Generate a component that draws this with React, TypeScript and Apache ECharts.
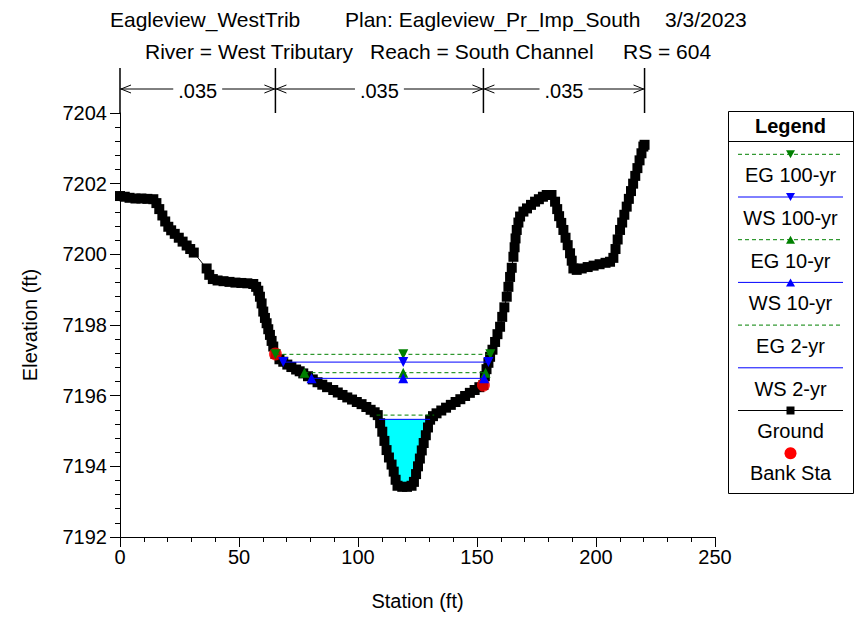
import React, { useEffect, useRef } from "react";
import * as echarts from "echarts";

// ---------------- data ----------------
// Ground survey points [station (ft), elevation (ft)]
const groundPoints: [number, number][] = [
  [0, 7201.65], [2, 7201.63], [4, 7201.6], [6.5, 7201.58], [9, 7201.58], [11.5, 7201.57],
  [14, 7201.56], [15.3, 7201.45], [16.5, 7201.28], [17.8, 7201.1], [19, 7200.93], [20.3, 7200.78],
  [21.5, 7200.68], [23, 7200.58], [24.7, 7200.47], [26.3, 7200.36], [28, 7200.25], [29.5, 7200.15],
  [31, 7200.05],
  [36.4, 7199.6], [37.5, 7199.42], [39, 7199.3], [41, 7199.26], [43.5, 7199.24], [46, 7199.22],
  [48.5, 7199.2], [51, 7199.19], [53.5, 7199.18], [56, 7199.16], [57.2, 7199.08], [58.1, 7198.97],
  [58.8, 7198.8], [59.5, 7198.61], [60.2, 7198.38], [60.9, 7198.2], [61.6, 7198.05], [62.3, 7197.88],
  [63, 7197.72], [63.7, 7197.55], [64.4, 7197.39], [65.3, 7197.18],
  [67, 7197.03], [68.6, 7196.96], [70.3, 7196.88], [72, 7196.81], [74, 7196.74], [75.5, 7196.69],
  [77, 7196.63], [79, 7196.55], [81, 7196.46], [83, 7196.38], [85, 7196.31], [87, 7196.24],
  [89.6, 7196.16], [91.5, 7196.09], [93.5, 7196.02], [95.5, 7195.95], [97.5, 7195.89],
  [99.5, 7195.82], [101.5, 7195.76], [103.5, 7195.68], [105.3, 7195.6], [107, 7195.53],
  [108.3, 7195.45], [109.3, 7195.22], [110.2, 7194.98], [111.1, 7194.72], [112, 7194.46],
  [113, 7194.25], [114.1, 7194.05], [115, 7193.85], [115.8, 7193.62], [116.6, 7193.45],
  [118.6, 7193.42], [120.6, 7193.42], [122.5, 7193.45], [123.5, 7193.56], [124.4, 7193.78],
  [125.2, 7194.0], [126, 7194.22], [126.8, 7194.45], [127.6, 7194.66], [128.5, 7194.88],
  [129.4, 7195.1], [130.3, 7195.32], [131.5, 7195.42], [133, 7195.5], [135, 7195.58],
  [137, 7195.66], [139, 7195.74], [141, 7195.82], [143, 7195.9], [145, 7195.99], [147, 7196.08],
  [149, 7196.16], [151, 7196.24], [152.7, 7196.3],
  [153.3, 7196.55], [154, 7196.75], [154.8, 7196.93], [155.5, 7197.1], [156.5, 7197.3],
  [157.6, 7197.52], [158.6, 7197.74], [159.7, 7197.95], [160.6, 7198.23], [161.5, 7198.5],
  [162.5, 7198.8], [163.2, 7199.08], [163.9, 7199.36], [164.6, 7199.62],
  [165.3, 7199.93], [165.8, 7200.2], [166.2, 7200.45], [166.7, 7200.69], [167.4, 7200.9],
  [168.1, 7201.07], [169.5, 7201.21], [171, 7201.3], [172.7, 7201.4], [174.4, 7201.49],
  [176, 7201.56], [177.7, 7201.63], [179.3, 7201.68], [181.3, 7201.68], [182.8, 7201.49],
  [183.7, 7201.28], [184.5, 7201.08], [185.4, 7200.89], [186.3, 7200.69], [187.2, 7200.47],
  [188.1, 7200.26], [189.1, 7200.03], [189.8, 7199.82], [190.5, 7199.6], [191.9, 7199.56],
  [194, 7199.6], [196.5, 7199.64], [199, 7199.68], [201.5, 7199.72], [204, 7199.76],
  [205.9, 7199.79], [207.3, 7199.9], [208.2, 7200.15], [209.1, 7200.42], [210.1, 7200.69],
  [211, 7200.9], [211.9, 7201.12], [212.9, 7201.35], [213.8, 7201.57], [214.7, 7201.79],
  [215.6, 7202.0], [216.5, 7202.22], [217.4, 7202.44], [218.3, 7202.66], [219.1, 7202.86],
  [219.9, 7203.05], [220.4, 7203.1],
];
const bankStation = [65.3, 152.7];
const bankElev = [7197.18, 7196.3];

const profileNames = ["EG 100-yr", "WS 100-yr", "EG 10-yr", "WS 10-yr", "EG 2-yr", "WS 2-yr"];
const profileElev = [7197.17, 7196.95, 7196.65, 7196.49, 7195.45, 7195.33];
const profileLeft = [65.3, 68.6, 77.5, 80.5, 107.8, 108.9];
const profileRight = [155.6, 154.8, 153.6, 153.0, 132.0, 130.3];
const profileMid = 119;

const manningN = [".035", ".035", ".035"];

const titleLine1 = ["Eagleview_WestTrib", "Plan: Eagleview_Pr_Imp_South", "3/3/2023"];
const titleLine2 = ["River = West Tributary", "Reach = South Channel", "RS = 604"];

const xName = "Station (ft)";
const yName = "Elevation (ft)";
const xMin = 0, xMax = 250, xStep = 50;
const yMin = 7192, yMax = 7204, yStep = 2;

// ---------------- styles ----------------
const FONT = "'Liberation Sans', Arial, sans-serif";
const GREEN = "#008000";
const BLUE = "#0000ff";
const profileStyle = [
  { color: GREEN, dash: [4, 3], sym: "down" },
  { color: BLUE, dash: null, sym: "down" },
  { color: GREEN, dash: [4, 3], sym: "up" },
  { color: BLUE, dash: null, sym: "up" },
  { color: GREEN, dash: [4, 3], sym: "none" },
  { color: BLUE, dash: null, sym: "none" },
];

function App() {
  const ref = useRef<HTMLDivElement>(null);
  useEffect(() => {
    if (!ref.current) return;
    const chart = echarts.init(ref.current, undefined, { renderer: "svg" });

    const groundData = groundPoints.map((p) => [p[0], p[1]]);
    const ws2Idx = 5;
    const ws2 = profileElev[ws2Idx];
    const waterPoly = [
      [profileLeft[ws2Idx], ws2],
      ...groundData.filter(
        ([s, e]) => s > profileLeft[ws2Idx] && s < profileRight[ws2Idx] && e < ws2
      ),
      [profileRight[ws2Idx], ws2],
    ];

    const profileSeries = profileNames.map((name, i) => {
      const st = profileStyle[i];
      const data =
        st.sym === "none"
          ? [
              [profileLeft[i], profileElev[i]],
              [profileRight[i], profileElev[i]],
            ]
          : [
              [profileLeft[i], profileElev[i]],
              [profileMid, profileElev[i]],
              [profileRight[i], profileElev[i]],
            ];
      return {
        type: "line",
        name,
        data,
        z: 5,
        silent: true,
        showSymbol: st.sym !== "none",
        symbol: "triangle",
        symbolSize: 10,
        symbolRotate: st.sym === "down" ? 180 : 0,
        lineStyle: { color: st.color, width: 1, type: st.dash ? st.dash : "solid" },
        itemStyle: { color: st.color, borderWidth: 0 },
      };
    });

    const axisCommon = {
      axisLine: { show: true, onZero: false, lineStyle: { color: "#000", width: 1 } },
      axisTick: { show: true, length: 10, inside: false, lineStyle: { color: "#000" } },
      minorTick: { show: true, splitNumber: 5, length: 5, lineStyle: { color: "#000" } },
      splitLine: { show: false },
      nameLocation: "middle",
      nameTextStyle: { color: "#000", fontSize: 20, fontFamily: FONT },
    };

    chart.setOption({
      animation: false,
      backgroundColor: "#fff",
      grid: { left: 120, right: 144, top: 113, bottom: 81, containLabel: false, outerBoundsMode: "none" },
      xAxis: {
        type: "value",
        min: xMin,
        max: xMax,
        interval: xStep,
        name: xName,
        nameGap: 54,
        ...axisCommon,
        axisLabel: { color: "#000", fontSize: 20, fontFamily: FONT, margin: 10, formatter: (v: number) => String(v) },
      },
      yAxis: {
        type: "value",
        min: yMin,
        max: yMax,
        interval: yStep,
        name: yName,
        nameGap: 80,
        ...axisCommon,
        axisLabel: { color: "#000", fontSize: 20, fontFamily: FONT, margin: 13, formatter: (v: number) => String(v) },
      },
      series: [
        {
          type: "custom",
          name: "Water",
          silent: true,
          z: 1,
          data: [waterPoly[0]],
          renderItem: (_p: any, api: any) => ({
            type: "polygon",
            shape: { points: waterPoly.map((p) => api.coord(p)) },
            style: { fill: "#00ffff", stroke: "none" },
          }),
        },
        {
          type: "line",
          name: "Ground",
          data: groundData,
          z: 3,
          silent: true,
          symbol: "rect",
          symbolSize: 10,
          showSymbol: true,
          lineStyle: { color: "#000", width: 1 },
          itemStyle: { color: "#000", borderWidth: 0 },
        },
        {
          type: "scatter",
          name: "Bank Sta",
          data: bankStation.map((s, i) => [s, bankElev[i]]),
          z: 4,
          silent: true,
          symbol: "circle",
          symbolSize: 13,
          itemStyle: { color: "#ff0000", borderWidth: 0 },
        },
        ...profileSeries,
      ],
    });

    // ---------- graphics (title, Manning's n, legend) ----------
    const g: any[] = [];
    const txt = (text: string, x: number, y: number, opts: any = {}) => ({
      type: "text",
      silent: true,
      z: 100,
      style: {
        text,
        x,
        y,
        fill: "#000",
        fontSize: opts.fontSize || 20,
        fontFamily: FONT,
        fontWeight: opts.fontWeight || "normal",
        align: opts.align || "left",
        textAlign: opts.align || "left",
        verticalAlign: "middle",
        textVerticalAlign: "middle",
        backgroundColor: opts.bg,
        padding: opts.padding,
      },
    });

    const t1x = [110, 345, 665];
    const t2x = [145, 370, 623];
    titleLine1.forEach((t, i) => g.push(txt(t, t1x[i], 19, { fontSize: 21 })));
    titleLine2.forEach((t, i) => g.push(txt(t, t2x[i], 51, { fontSize: 21 })));

    // Manning's n markers
    const nStations = [groundPoints[0][0], bankStation[0], bankStation[1], groundPoints[groundPoints.length - 1][0]];
    const xs = nStations.map((s) => chart.convertToPixel({ xAxisIndex: 0 }, s) as number);
    const yTop = chart.convertToPixel({ yAxisIndex: 0 }, yMax) as number;
    const lineTop = yTop - 45;
    const arrowY = yTop - 24;
    xs.forEach((x) =>
      g.push({
        type: "line",
        silent: true,
        shape: { x1: x, y1: lineTop, x2: x, y2: yTop },
        style: { stroke: "#000", lineWidth: 1.5 },
      })
    );
    manningN.forEach((n, i) => {
      const a = xs[i];
      const b = xs[i + 1];
      g.push({
        type: "line",
        silent: true,
        shape: { x1: a, y1: arrowY, x2: b, y2: arrowY },
        style: { stroke: "#000", lineWidth: 1 },
      });
      g.push({
        type: "polyline",
        silent: true,
        shape: { points: [[a + 11, arrowY - 4], [a + 1, arrowY], [a + 11, arrowY + 4]] },
        style: { stroke: "#000", lineWidth: 1, fill: "none" },
      });
      g.push({
        type: "polyline",
        silent: true,
        shape: { points: [[b - 11, arrowY - 4], [b - 1, arrowY], [b - 11, arrowY + 4]] },
        style: { stroke: "#000", lineWidth: 1, fill: "none" },
      });
      g.push(txt(n, (a + b) / 2, arrowY + 2, { align: "center", bg: "#fff", padding: [0, 5] }));
    });

    // Legend box
    const lx = 728, lw = 125, ly = 111, lh = 382;
    const cx = lx + lw / 2;
    g.push({
      type: "rect",
      silent: true,
      shape: { x: lx + 0.5, y: ly + 0.5, width: lw, height: lh },
      style: { fill: "#fff", stroke: "#000", lineWidth: 1 },
      z: 90,
    });
    g.push({
      type: "line",
      silent: true,
      z: 91,
      shape: { x1: lx, y1: ly + 30.5, x2: lx + lw, y2: ly + 30.5 },
      style: { stroke: "#000", lineWidth: 1 },
    });
    g.push(txt("Legend", cx, ly + 15, { align: "center", fontWeight: "bold" }));
    const step = 42.7;
    const firstLine = 154.3;
    const tri = (x: number, y: number, down: boolean) =>
      down
        ? [[x - 4.5, y - 4], [x + 4.5, y - 4], [x, y + 4]]
        : [[x - 4.5, y + 4], [x + 4.5, y + 4], [x, y - 4]];
    profileNames.forEach((name, i) => {
      const st = profileStyle[i];
      const y = firstLine + step * i;
      g.push({
        type: "line",
        silent: true,
        z: 95,
        shape: { x1: lx + 10, y1: y, x2: lx + lw - 10, y2: y },
        style: { stroke: st.color, lineWidth: 1, lineDash: st.dash || undefined },
      });
      if (st.sym !== "none") {
        g.push({
          type: "polygon",
          silent: true,
          z: 96,
          shape: { points: tri(cx, y, st.sym === "down") },
          style: { fill: st.color },
        });
      }
      g.push(txt(name, cx, y + 21, { align: "center" }));
    });
    const yG = firstLine + step * 6;
    g.push({
      type: "line",
      silent: true,
      z: 95,
      shape: { x1: lx + 10, y1: yG, x2: lx + lw - 10, y2: yG },
      style: { stroke: "#000", lineWidth: 1 },
    });
    g.push({
      type: "rect",
      silent: true,
      z: 96,
      shape: { x: cx - 4, y: yG - 4, width: 8, height: 8 },
      style: { fill: "#000" },
    });
    g.push(txt("Ground", cx, yG + 20, { align: "center" }));
    const yB = firstLine + step * 7;
    g.push({
      type: "circle",
      silent: true,
      z: 96,
      shape: { cx, cy: yB, r: 6 },
      style: { fill: "#ff0000" },
    });
    g.push(txt("Bank Sta", cx, yB + 20, { align: "center" }));

    chart.setOption({ graphic: g });

    return () => chart.dispose();
  }, []);

  return (
    <div
      ref={ref}
      style={{ position: "fixed", left: 0, top: 0, width: 859, height: 618, background: "#fff" }}
    />
  );
}

export default App;
